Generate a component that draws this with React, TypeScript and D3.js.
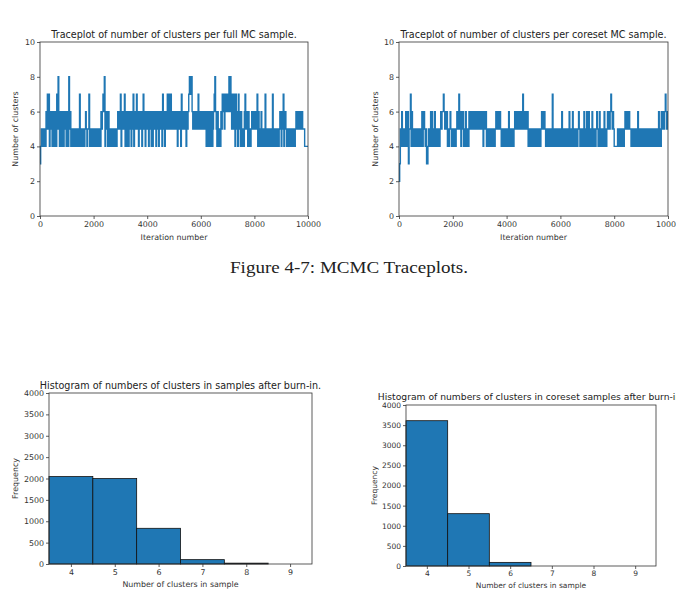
import React, { useEffect, useRef } from "react";
import * as d3 from "d3";

const FONT = "DejaVu Sans, sans-serif";
const BLUE = "#1f77b4";
const INK = "#333";

// Number of clusters in the chain, one digit every 25 iterations,
// grouped in blocks of 200 iterations.
const traceStep = 25;
const fullTrace: string[] = [
  "34545454", "46575746", "56456465", "47586465", "46546564",
  "56485645", "45454545", "45475454", "45456545", "57454545",
  "45454545", "45465676", "84565465", "45454545", "45456565",
  "74565674", "56464565", "46574656", "75646565", "46756456",
  "56465646", "45656456", "64565647", "56465675", "76575656",
  "56565465", "65475656", "56465678", "87865656", "56567565",
  "56565656", "45645646", "64567865", "46545465", "76757676",
  "67868757", "56747654", "75646545", "46756546", "45456565",
  "65657465", "45645454", "74545454", "45475454", "45454565",
  "46574565", "45454545", "45454565", "56565656", "55544444",
];
const coresetTrace: string[] = [
  "23546545", "45645635", "57464545", "45454545", "45645654",
  "53345456", "46545645", "45454565", "66765656", "45456545",
  "45454565", "67564656", "45465454", "65656565", "56565656",
  "65656465", "56454545", "45454545", "65656565", "45454545",
  "45465454", "45456565", "65656565", "76565656", "45454545",
  "45454545", "45456565", "65454545", "45457454", "45454545",
  "45645454", "54545645", "45645454", "54565454", "45465456",
  "45645456", "45454565", "45645454", "56454565", "65676565",
  "44444545", "45454545", "65656565", "54545454", "45465454",
  "45454545", "54545454", "45454545", "45645465", "56567656",
];
const iterTicks = [0, 2000, 4000, 6000, 8000, 10000];
const clusterTicks = [0, 2, 4, 6, 8, 10];

// Histogram counts after burn-in
const fullBins = [4, 5, 6, 7, 8];
const fullCounts = [2045, 1998, 835, 102, 20];
const coresetBins = [4, 5, 6];
const coresetCounts = [3610, 1300, 90];
const binTicks = [4, 5, 6, 7, 8, 9];
const freqTicks = [0, 500, 1000, 1500, 2000, 2500, 3000, 3500, 4000];

type Pt = { x: number; y: number };

function toPoints(blocks: string[]): Pt[] {
  const vals = blocks.join("").split("").map(Number);
  const pts = vals.map((v, i) => ({ x: i * traceStep, y: v }));
  pts.push({ x: vals.length * traceStep, y: vals[vals.length - 1] });
  return pts;
}

function Axis({ scale, orient, x, y, ticks, fontSize }: any) {
  const ref = useRef<SVGGElement>(null);
  useEffect(() => {
    const axis = (orient === "left" ? d3.axisLeft(scale) : d3.axisBottom(scale))
      .tickValues(ticks)
      .tickSizeInner(3)
      .tickSizeOuter(0)
      .tickPadding(2)
      .tickFormat(d3.format("d"));
    const g = d3.select(ref.current!);
    g.call(axis as any);
    g.attr("font-family", FONT).attr("font-size", fontSize);
    g.select(".domain").remove();
    g.selectAll(".tick line").attr("stroke", INK).attr("stroke-width", 0.8);
    g.selectAll(".tick text").attr("fill", INK);
  }, [scale, orient, ticks, fontSize]);
  return <g ref={ref} transform={`translate(${x},${y})`} />;
}

function Labels({ x0, x1, y0, y1, title, titleY, titleSize, xLabel, xLabelY, yLabel, yLabelX, labelSize }: any) {
  return (
    <g fontFamily={FONT} fill={INK}>
      <text x={(x0 + x1) / 2} y={titleY} fontSize={titleSize} textAnchor="middle" fill="#222">
        {title}
      </text>
      <text x={(x0 + x1) / 2} y={xLabelY} fontSize={labelSize} textAnchor="middle">
        {xLabel}
      </text>
      <text
        transform={`translate(${yLabelX},${(y0 + y1) / 2}) rotate(-90)`}
        fontSize={labelSize}
        textAnchor="middle"
        dominantBaseline="middle"
      >
        {yLabel}
      </text>
    </g>
  );
}

function Traceplot({ x0, x1, y0, y1, blocks, title, yLabelX }: any) {
  const xs = d3.scaleLinear().domain([0, 10000]).range([x0, x1]);
  const ys = d3.scaleLinear().domain([0, 10]).range([y1, y0]);
  const line = d3
    .line<Pt>()
    .x((d) => xs(d.x))
    .y((d) => ys(d.y))
    .curve(d3.curveStepAfter);
  const pts = toPoints(blocks);
  return (
    <g>
      <path d={line(pts) || ""} fill="none" stroke={BLUE} strokeWidth={1.4} />
      <rect x={x0} y={y0} width={x1 - x0} height={y1 - y0} fill="none" stroke={INK} strokeWidth={0.8} />
      <Axis scale={ys} orient="left" x={x0} y={0} ticks={clusterTicks} fontSize={7.9} />
      <Axis scale={xs} orient="bottom" x={0} y={y1} ticks={iterTicks} fontSize={7.9} />
      <Labels
        x0={x0} x1={x1} y0={y0} y1={y1}
        title={title} titleY={37.5} titleSize={9.6}
        xLabel="Iteration number" xLabelY={239.5}
        yLabel="Number of clusters" yLabelX={yLabelX} labelSize={7.9}
      />
    </g>
  );
}

function Histogram({ x0, x1, y0, y1, bins, counts, title, titleY, titleSize, tickSize, xLabelY, yLabelX }: any) {
  const xs = d3.scaleLinear().domain([3.5, 9.5]).range([x0, x1]);
  const ys = d3.scaleLinear().domain([0, 4000]).range([y1, y0]);
  return (
    <g>
      {bins.map((b: number, i: number) => (
        <rect
          key={b}
          x={xs(b - 0.5)}
          y={ys(counts[i])}
          width={xs(b + 0.5) - xs(b - 0.5)}
          height={ys(0) - ys(counts[i])}
          fill={BLUE}
          stroke="#111"
          strokeWidth={0.8}
        />
      ))}
      <rect x={x0} y={y0} width={x1 - x0} height={y1 - y0} fill="none" stroke={INK} strokeWidth={0.8} />
      <Axis scale={ys} orient="left" x={x0} y={0} ticks={freqTicks} fontSize={tickSize} />
      <Axis scale={xs} orient="bottom" x={0} y={y1} ticks={binTicks} fontSize={tickSize} />
      <Labels
        x0={x0} x1={x1} y0={y0} y1={y1}
        title={title} titleY={titleY} titleSize={titleSize}
        xLabel="Number of clusters in sample" xLabelY={xLabelY}
        yLabel="Frequency" yLabelX={yLabelX} labelSize={tickSize}
      />
    </g>
  );
}

export default function App() {
  return (
    <svg
      width={676}
      height={602}
      style={{ position: "absolute", left: 0, top: 0, background: "#fff" }}
    >
      <Traceplot
        x0={40} x1={308} y0={42} y1={216}
        blocks={fullTrace}
        title="Traceplot of number of clusters per full MC sample."
        yLabelX={16}
      />
      <Traceplot
        x0={399} x1={668} y0={42} y1={216}
        blocks={coresetTrace}
        title="Traceplot of number of clusters per coreset MC sample."
        yLabelX={375.5}
      />
      <text
        x={349}
        y={273}
        textAnchor="middle"
        fontFamily="Liberation Serif, serif"
        fontSize={16}
        textLength={238}
        lengthAdjust="spacingAndGlyphs"
        fill="#222"
      >
        Figure 4-7: MCMC Traceplots.
      </text>
      <Histogram
        x0={49} x1={312} y0={393} y1={564}
        bins={fullBins} counts={fullCounts}
        title="Histogram of numbers of clusters in samples after burn-in."
        titleY={389} titleSize={9.6} tickSize={7.9}
        xLabelY={587} yLabelX={16}
      />
      <Histogram
        x0={406} x1={656} y0={405} y1={566}
        bins={coresetBins} counts={coresetCounts}
        title="Histogram of numbers of clusters in coreset samples after burn-in."
        titleY={399.5} titleSize={9.2} tickSize={7.5}
        xLabelY={588} yLabelX={375}
      />
    </svg>
  );
}
